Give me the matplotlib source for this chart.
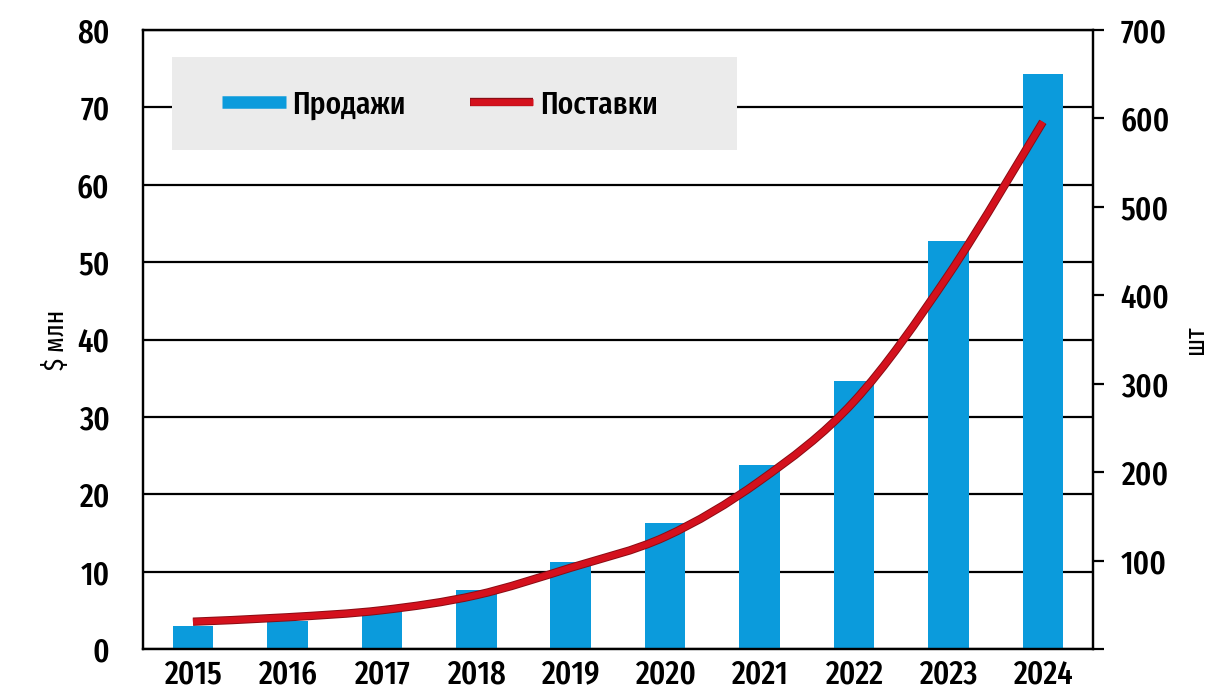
import matplotlib
matplotlib.use("Agg")
import matplotlib.pyplot as plt
from matplotlib.lines import Line2D
from matplotlib.patches import Rectangle, PathPatch
from matplotlib.path import Path
import matplotlib.patheffects as pe

years = ["2015", "2016", "2017", "2018", "2019", "2020", "2021", "2022", "2023", "2024"]
sales = [3.0, 3.6, 4.9, 7.6, 11.2, 16.3, 23.8, 34.7, 52.7, 74.3]          # $ млн
shipments = [31, 36, 44, 61, 92, 127, 190, 280, 423, 596]                 # шт
left_ticks = [0, 10, 20, 30, 40, 50, 60, 70, 80]
right_ticks = [0, 100, 200, 300, 400, 500, 600, 700]
right_labels = ["", "100", "200", "300", "400", "500", "600", "700"]

FONT = ["Fira Sans Extra Condensed", "Roboto Condensed", "DejaVu Sans"]
plt.rcParams["font.family"] = FONT
plt.rcParams["font.weight"] = 500

BLUE = "#0b9bdc"
RED = "#d4111d"
DARKRED = "#8a0c14"
FS = 24

fig = plt.figure(figsize=(12.11, 6.95), dpi=100)
ax = fig.add_axes([0.118, 0.066, 0.7845, 0.891])
x = list(range(len(years)))

ax.bar(x, sales, width=0.43, color=BLUE, zorder=2)
ax.set_xlim(-0.53, 9.53)
ax.set_ylim(0, 80)
ax.set_yticks(left_ticks)
ax.set_axisbelow(True)
ax.yaxis.grid(True, color="black", linewidth=1.6)
ax.set_xticks(x)
ax.set_xticklabels(years)
ax.tick_params(axis="y", length=0, pad=24, labelsize=FS)
ax.tick_params(axis="x", length=0, pad=7, labelsize=FS)
for s in ax.spines.values():
    s.set_linewidth(1.6)
ax.set_ylabel("$ млн", fontsize=20)
ax.yaxis.set_label_coords(-0.077, 0.5)

ax.add_patch(Rectangle((0.0305, 0.806), 0.5945, 0.150, transform=ax.transAxes,
                       facecolor="#ebebeb", edgecolor="none", zorder=1.5))

ax2 = ax.twinx()
ax2.set_ylim(0, 700)
ax2.set_yticks(right_ticks)
ax2.set_yticklabels(right_labels)
ax2.tick_params(axis="y", length=8, width=1.6, pad=12, labelsize=FS)
for s in ax2.spines.values():
    s.set_linewidth(1.6)

# smooth curve through the data points (Catmull-Rom as cubic Bezier)
pts = list(zip(x, shipments))
ext = [pts[0]] + pts + [pts[-1]]
verts = [pts[0]]
codes = [Path.MOVETO]
for i in range(1, len(ext) - 2):
    p0, p1, p2, p3 = ext[i - 1], ext[i], ext[i + 1], ext[i + 2]
    c1 = (p1[0] + (p2[0] - p0[0]) / 6, p1[1] + (p2[1] - p0[1]) / 6)
    c2 = (p2[0] - (p3[0] - p1[0]) / 6, p2[1] - (p3[1] - p1[1]) / 6)
    verts += [c1, c2, p2]
    codes += [Path.CURVE4] * 3
curve = PathPatch(Path(verts, codes), facecolor="none", edgecolor=RED, linewidth=4.6,
                  capstyle="butt", transform=ax2.transData,
                  path_effects=[pe.Stroke(linewidth=6.0, foreground=DARKRED), pe.Normal()])
ax2.add_patch(curve)

ax2.set_ylabel("шт", fontsize=20, rotation=90)
ax2.yaxis.set_label_coords(1.094, 0.5)

handles = [Line2D([], [], color=BLUE, linewidth=9, solid_capstyle="butt"),
           Line2D([], [], color=RED, linewidth=4.8, solid_capstyle="butt",
                  path_effects=[pe.Stroke(linewidth=6.0, foreground=DARKRED), pe.Normal()])]
ax2.legend(handles, ["Продажи", "Поставки"], ncol=2, frameon=False,
           loc="center left", bbox_to_anchor=(0.0832, 0.879), fontsize=23,
           borderpad=0, borderaxespad=0,
           handlelength=2.0, handletextpad=0.2, columnspacing=2.0)

fig.savefig("out.png", dpi=100)
